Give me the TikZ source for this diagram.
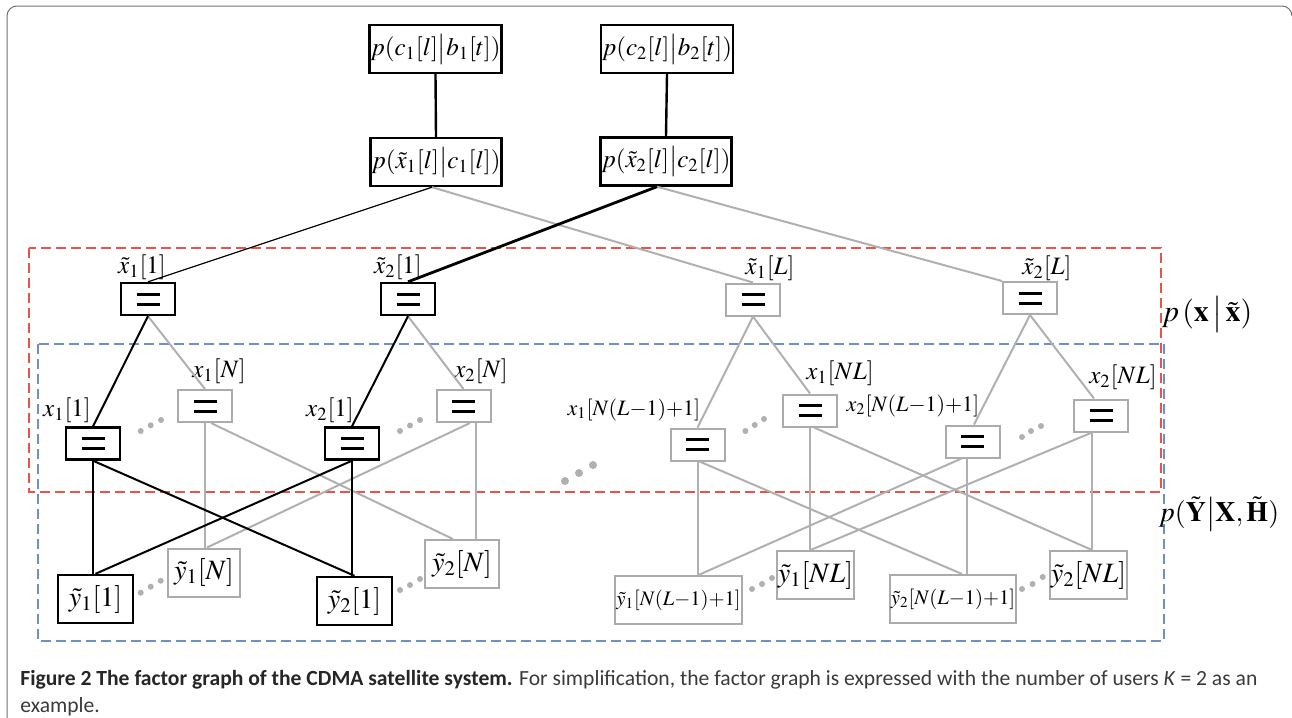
\documentclass[tikz,border=0pt]{standalone}
\usepackage{mathptmx}
\usepackage{fontspec}
\setmainfont{Liberation Serif}
\newfontfamily\capfont{Carlito}
\definecolor{lg}{HTML}{B0B0B0}
\definecolor{bg}{HTML}{ABABAB}
\definecolor{dred}{HTML}{E8534A}
\definecolor{dblue}{HTML}{6F8FCB}
\definecolor{framec}{HTML}{707070}
\definecolor{capc}{HTML}{3A3A3A}
\begin{document}
\begin{tikzpicture}[x=0.5pt,y=-0.5pt,
  topbox/.style={draw, line width=1.2pt, minimum width=65.5pt, minimum height=24pt, inner sep=0.5pt, font=\fontsize{12.5}{15}\selectfont},
  eqbase/.style={draw, minimum width=27pt, minimum height=16pt, inner sep=0pt,
    path picture={
      \draw[line width=1.5pt,black] ([shift={(-5.75pt,2.5pt)}]path picture bounding box.center) -- ++(11.5pt,0pt);
      \draw[line width=1.5pt,black] ([shift={(-5.75pt,-2.5pt)}]path picture bounding box.center) -- ++(11.5pt,0pt);}},
  eqbox/.style={eqbase, line width=1.2pt},
  eqgray/.style={eqbase, line width=1pt, draw=bg},
  ybox/.style={draw, line width=1.2pt, minimum height=24pt, inner sep=0.5pt, font=\fontsize{14}{16}\selectfont},
  ygray/.style={draw=bg, line width=1pt, minimum height=24pt, inner sep=0.5pt, font=\fontsize{14}{16}\selectfont},
  lbl/.style={inner sep=0pt, font=\fontsize{12.5}{14}\selectfont},
  lbllong/.style={inner sep=0pt, font=\fontsize{11}{13}\selectfont},
  bl/.style={line width=1pt, black},
  gl/.style={line width=1pt, lg},
  dot/.style={fill=lg}
]
\useasboundingbox (0,0) rectangle (1292,718);
% frame
\draw[framec, line width=0.5pt] (7,718) -- (7,16) arc[start angle=180, end angle=90, radius=5pt] -- (1282,6) arc[start angle=90, end angle=0, radius=5pt];

% dashed regions
\draw[dred, line width=0.75pt, dash pattern=on 5pt off 2.5pt] (29,248) rectangle (1161,492);
\draw[dblue, line width=0.75pt, dash pattern=on 5pt off 2.5pt] (38,344) rectangle (1164,641);

% top factor nodes
\node[topbox] (A1) at (435.5,49) {$p(c_1[l]\big|b_1[t])$};
\node[topbox] (A2) at (667,49) {$p(c_2[l]\big|b_2[t])$};
\node[topbox] (B1) at (436,162) {$p(\tilde{x}_1[l]\big|c_1[l])$};
\node[topbox] (B2) at (666,161.5) {$p(\tilde{x}_2[l]\big|c_2[l])$};

% equality nodes, row 1
\node[eqbox] (tx11) at (148,299) {};
\node[eqbox] (tx21) at (408,299) {};
\node[eqgray] (tx1L) at (753,299.5) {};
\node[eqgray] (tx2L) at (1030,298) {};
% equality nodes, row 2
\node[eqbox] (x11) at (93,443.5) {};
\node[eqgray] (x1N) at (205,406) {};
\node[eqbox] (x21) at (352,443.5) {};
\node[eqgray] (x2N) at (463.5,406) {};
\node[eqgray] (x1a) at (697.5,444.5) {};
\node[eqgray] (x1b) at (810,410.5) {};
\node[eqgray] (x2a) at (972.5,441.5) {};
\node[eqgray] (x2b) at (1101,415.5) {};

% observation nodes
\node[ybox, minimum width=37.5pt] (y11) at (95.5,599) {$\tilde{y}_1[1]$};
\node[ygray, minimum width=36pt] (y1N) at (204,572.5) {$\tilde{y}_1[N]$};
\node[ybox, minimum width=37.5pt] (y21) at (354.5,601) {$\tilde{y}_2[1]$};
\node[ygray, minimum width=37pt] (y2N) at (462,564) {$\tilde{y}_2[N]$};
\node[ygray, minimum width=61.5pt, font=\fontsize{10.3}{12}\selectfont] (y1a) at (678.5,600) {$\tilde{y}_1[N(L{-}1){+}1]$};
\node[ygray, minimum width=36.5pt] (y1b) at (815.5,575) {$\tilde{y}_1[NL]$};
\node[ygray, minimum width=60pt, font=\fontsize{10.3}{12}\selectfont] (y2a) at (953,599) {$\tilde{y}_2[N(L{-}1){+}1]$};
\node[ygray, minimum width=37.5pt] (y2b) at (1088.5,575) {$\tilde{y}_2[NL]$};

% labels
\node[lbl] (l1) at (142,267) {$\tilde{x}_1[1]$};
\node[lbl] (l2) at (398,267) {$\tilde{x}_2[1]$};
\node[lbl] (l3) at (770,268) {$\tilde{x}_1[L]$};
\node[lbl] (l4) at (1047,268) {$\tilde{x}_2[L]$};
\node[lbl] (l5) at (67,410) {$x_1[1]$};
\node[lbl] (l6) at (219,371) {$x_1[N]$};
\node[lbl] (l7) at (330,410) {$x_2[1]$};
\node[lbl] (l8) at (481,371) {$x_2[N]$};
\node[lbllong] (l9) at (634,410) {$x_1[N(L{-}1){+}1]$};
\node[lbl] (l10) at (840,373) {$x_1[NL]$};
\node[lbllong] (l11) at (913,406) {$x_2[N(L{-}1){+}1]$};
\node[lbl] (l12) at (1123,377) {$x_2[NL]$};

\node[inner sep=0pt, font=\fontsize{15}{17}\selectfont] (px) at (1207,314) {$p\,(\mathbf{x}\,\big|\,\tilde{\mathbf{x}})$};
\node[inner sep=0pt, font=\fontsize{14}{16}\selectfont] (py) at (1219,514) {$p(\tilde{\mathbf{Y}}\big|\mathbf{X},\tilde{\mathbf{H}})$};

% gray connectors
\draw[gl] ([xshift=-2pt]B1.south) -- (tx1L.north);
\draw[gl] ([xshift=-4.5pt]B2.south) -- (tx2L.north west);
\draw[gl] (tx11.south) -- (x1N.north);
\draw[gl] (tx21.south) -- (x2N.north);
\draw[gl] (x1N.south) -- (x1N.south |- y1N.north);
\draw[gl] ([xshift=3pt]x1N.south) -- ([xshift=-4.5pt]y2N.north);
\draw[gl] ([xshift=6.25pt]x2N.south) -- ([xshift=6.25pt]x2N.south |- y2N.north);
\draw[gl] ([xshift=3.25pt]x2N.south) -- ([xshift=1.5pt]y1N.north);
\draw[gl] (tx1L.south) -- (x1a.north);
\draw[gl] (tx1L.south) -- (x1b.north);
\draw[gl] (tx2L.south) -- ([xshift=0.75pt]x2a.north);
\draw[gl] (tx2L.south) -- ([xshift=-3.5pt]x2b.north);
\draw[gl] (x1a.south) -- (x1a.south |- y1a.north);
\draw[gl] ([xshift=1pt]x1a.south) -- ([xshift=4.5pt]y2a.north);
\draw[gl] (x1b.south) -- (x1b.south |- y1b.north);
\draw[gl] ([xshift=2pt]x1b.south) -- ([xshift=1.75pt]y2b.north);
\draw[gl] ([xshift=-2.75pt]x2a.south) -- ([xshift=-2.75pt]x2a.south |- y2a.north);
\draw[gl] ([xshift=-5.5pt]x2a.south) -- ([xshift=10pt]y1a.north);
\draw[gl] ([xshift=-4.5pt]x2b.south) -- ([xshift=-4.5pt]x2b.south |- y2b.north);
\draw[gl] ([xshift=-4.5pt]x2b.south) -- ([xshift=-2.5pt]y1b.north);

% black connectors
\draw[line width=1.2pt] (A1.south) -- (B1.north);
\draw[line width=1.2pt] (A2.south) -- (B2.north);
\draw[line width=0.6pt] ([xshift=-2pt]B1.south) -- (tx11.north);
\draw[line width=1.4pt] ([xshift=-4.5pt]B2.south) -- (tx21.north);
\draw[bl] (tx11.south) -- (x11.north);
\draw[bl] (tx21.south) -- (x21.north);
\draw[bl] (x11.south) -- (x11.south |- y11.north);
\draw[bl] (x11.south) -- (y21.north);
\draw[bl] (x21.south) -- (x21.south |- y21.north);
\draw[bl] (x21.south) -- (y11.north);

% ellipsis dots
\foreach \p in {(140.7,431),(150.7,425.3),(161,420),(400,431),(410,425.5),(420,420),
  (745.4,431),(754.7,425),(764,419),(1022,437),(1031,431),(1041,426),
  (140.7,592.7),(150.7,586.7),(160.7,580.7),(400,590),(410,585),(420,579),
  (752,589),(762,584),(772,578),(1022,589),(1032.5,584),(1042.7,577)}
  \fill[dot] \p circle (1.5pt);
\foreach \p in {(565,481),(579,473),(593,465)}
  \fill[dot] \p circle (2pt);

% caption
\node[anchor=west, inner sep=0pt, text=capc, font=\capfont\fontsize{10.8}{12}\selectfont] (cap1) at (20,680)
  {{\bfseries\color{black!85}Figure 2 The factor graph of the CDMA satellite system.} For simplification, the factor graph is expressed with the number of users \textit{K} = 2 as an};
\node[anchor=west, inner sep=0pt, text=capc, font=\capfont\fontsize{10.8}{12}\selectfont] (cap2) at (20,707) {example.};
\end{tikzpicture}
\end{document}
